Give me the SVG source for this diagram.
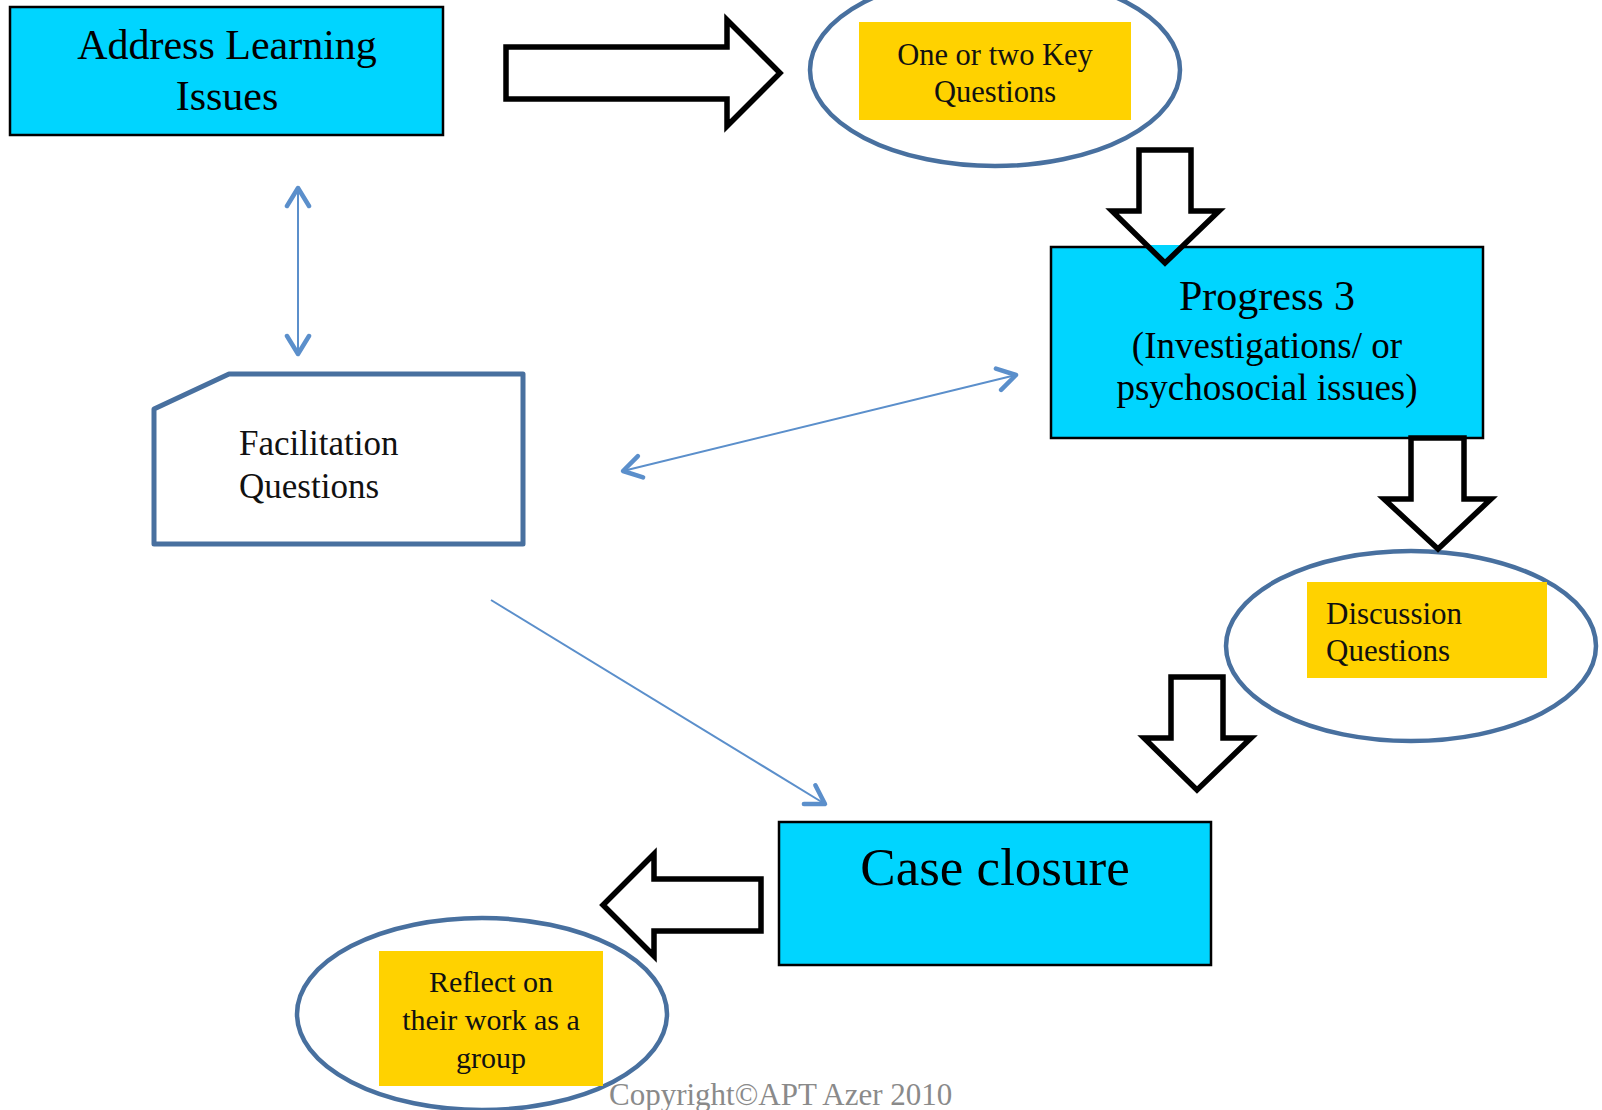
<svg xmlns="http://www.w3.org/2000/svg" width="1602" height="1110" viewBox="0 0 1602 1110">
  <style>
    .box { fill: #00D5FF; stroke: #000; stroke-width: 2.5; }
    .note { fill: #FFD200; }
    .oval { fill: none; stroke: #48709F; stroke-width: 4.5; }
    .big { fill: #fff; stroke: #000; stroke-width: 5.5; stroke-linejoin: miter; }
    .bigo { fill: none; stroke: #000; stroke-width: 5.5; stroke-linejoin: miter; }
    .tnr { font-family: "Liberation Serif", "Times New Roman", serif; fill: #000; }
    .gar { font-family: "Liberation Serif", "Times New Roman", serif; fill: #111; }
    .conn { stroke: #5B8FCB; stroke-width: 2; fill: none; }
    .mid { text-anchor: middle; }
  </style>
  <defs>
    <marker id="chev" viewBox="-22 -14 26 28" markerWidth="26" markerHeight="28" refX="0" refY="0" orient="auto-start-reverse" markerUnits="userSpaceOnUse">
      <path d="M -18 -11 L 0 0 L -18 11" fill="none" stroke="#5B8FCB" stroke-width="4.5" stroke-linecap="round" stroke-linejoin="round"/>
    </marker>
  </defs>
  <rect width="1602" height="1110" fill="#fff"/>

  <g id="address-learning">
    <rect class="box" x="10" y="7" width="433" height="128"/>
    <text class="tnr mid" x="227" y="59" font-size="42">Address Learning</text>
    <text class="tnr mid" x="227" y="110" font-size="42">Issues</text>
  </g>

  <g id="key-questions">
    <ellipse class="oval" cx="995" cy="70" rx="185" ry="96"/>
    <rect class="note" x="859" y="22" width="272" height="98"/>
    <text class="gar mid" x="995" y="65" font-size="30.5">One or two Key</text>
    <text class="gar mid" x="995" y="102" font-size="30.5">Questions</text>
  </g>

  <g id="progress-3">
    <rect class="box" x="1051" y="247" width="432" height="191"/>
    <text class="tnr mid" x="1267" y="310" font-size="42">Progress 3</text>
    <text class="tnr mid" x="1267" y="358" font-size="37">(Investigations/ or</text>
    <text class="tnr mid" x="1267" y="400" font-size="37">psychosocial issues)</text>
  </g>

  <g id="discussion-questions">
    <ellipse class="oval" cx="1411" cy="646" rx="185" ry="95"/>
    <rect class="note" x="1307" y="582" width="240" height="96"/>
    <text class="gar" x="1326" y="624" font-size="31">Discussion</text>
    <text class="gar" x="1326" y="661" font-size="31">Questions</text>
  </g>

  <g id="case-closure">
    <rect class="box" x="779" y="822" width="432" height="143"/>
    <text class="tnr mid" x="995" y="885" font-size="53">Case closure</text>
  </g>

  <g id="reflect">
    <ellipse class="oval" cx="482" cy="1014" rx="185" ry="96"/>
    <rect class="note" x="379" y="951" width="224" height="135"/>
    <text class="gar mid" x="491" y="992" font-size="30">Reflect on</text>
    <text class="gar mid" x="491" y="1030" font-size="30">their work as a</text>
    <text class="gar mid" x="491" y="1068" font-size="30">group</text>
  </g>

  <g id="facilitation-questions">
    <path d="M 154 409 L 229 374 L 523 374 L 523 544 L 154 544 Z" fill="#fff" stroke="#48709F" stroke-width="5" stroke-linejoin="round"/>
    <text class="gar" x="239" y="455" font-size="35">Facilitation</text>
    <text class="gar" x="239" y="498" font-size="35">Questions</text>
  </g>

  <g id="copyright">
    <text x="609" y="1105" font-size="31" fill="#8a8a8a" font-family="Liberation Serif, Times New Roman, serif">Copyright©APT Azer 2010</text>
  </g>

  <g id="connectors">
    <polygon class="big" points="506,47 727,47 727,20 780,73 727,126 727,99 506,99"/>
    <rect x="1150" y="245" width="30" height="5" fill="#00D5FF"/>
    <polygon class="bigo" points="1139,150 1191,150 1191,211 1219,211 1165,263 1112,211 1139,211"/>
    <polygon class="big" points="1411,438 1464,438 1464,499 1491,499 1438,549 1384,499 1411,499"/>
    <polygon class="big" points="1171,677 1223,677 1223,738 1251,738 1197,790 1144,738 1171,738"/>
    <polygon class="big" points="761,879 761,931 654,931 654,956 603,905 654,854 654,879"/>
    <line class="conn" x1="298" y1="188" x2="298" y2="354" marker-start="url(#chev)" marker-end="url(#chev)"/>
    <line class="conn" x1="623" y1="471" x2="1016" y2="375" marker-start="url(#chev)" marker-end="url(#chev)"/>
    <line class="conn" x1="491" y1="600" x2="825" y2="804" marker-end="url(#chev)"/>
  </g>
</svg>
